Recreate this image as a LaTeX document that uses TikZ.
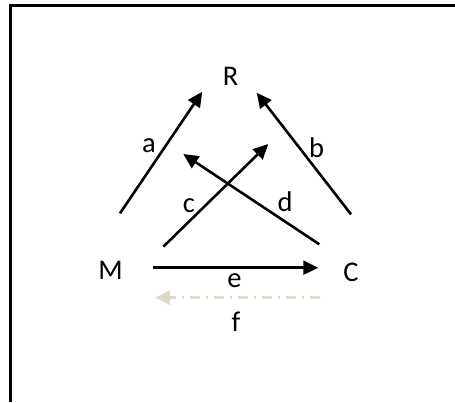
\documentclass[tikz,border=0pt]{standalone}
\usepackage{fontspec}
\setmainfont{Carlito}
\usetikzlibrary{arrows.meta}
\definecolor{backline}{HTML}{DFDBC8}
\tikzset{>={Triangle[length=15pt,width=14pt]}}
\tikzset{
  flow/.style={->,line width=2.6pt},
  backflow/.style={->,line width=2.6pt,draw=backline,fill=backline,
    dash pattern=on 10pt off 6pt on 2pt off 6pt},
  vertex/.style={inner sep=0pt,font=\fontsize{28.5}{34}\selectfont},
  tag/.style={inner sep=0pt,font=\fontsize{28.5}{34}\selectfont},
}

\begin{document}
\begin{tikzpicture}[x=1pt,y=-1pt]
  \useasboundingbox (0,0) rectangle (455,402);
  % frame, only top and left edges
  \draw[line width=2.6pt] (10.3,402) -- (10.3,5.3) -- (455,5.3);

  % the three vertices
  \node[vertex] (R) at (230.5,76) {R};
  \node[vertex] (M) at (110.5,270) {M};
  \node[vertex] (C) at (351,272) {C};

  % arrow ends
  \coordinate (a0) at (120,213.3);   \coordinate (a1) at (202.3,91.7);
  \coordinate (b0) at (351,214.3);   \coordinate (b1) at (256.7,92.7);
  \coordinate (c0) at (163.3,246.7); \coordinate (c1) at (268.3,144);
  \coordinate (d0) at (319.3,244.3); \coordinate (d1) at (183.3,154);
  \coordinate (e0) at (153.3,267.7); \coordinate (e1) at (318.3,267.7);
  \coordinate (f0) at (320,297.7);   \coordinate (f1) at (155,297.7);

  \draw[flow] (a0) -- (a1);
  \draw[flow] (b0) -- (b1);
  \draw[flow] (c0) -- (c1);
  \draw[flow] (d0) -- (d1);
  \draw[flow] (e0) -- (e1);
  \draw[backflow] (f0) -- (f1);

  % labels
  \node[tag] (la) at (149,146) {a};
  \node[tag] (lb) at (316.5,148) {b};
  \node[tag] (lc) at (189,206) {c};
  \node[tag] (ld) at (285,202) {d};
  \node[tag] (le) at (234.5,281) {e};
  \node[tag] (lf) at (236,322) {f};
\end{tikzpicture}
\end{document}
